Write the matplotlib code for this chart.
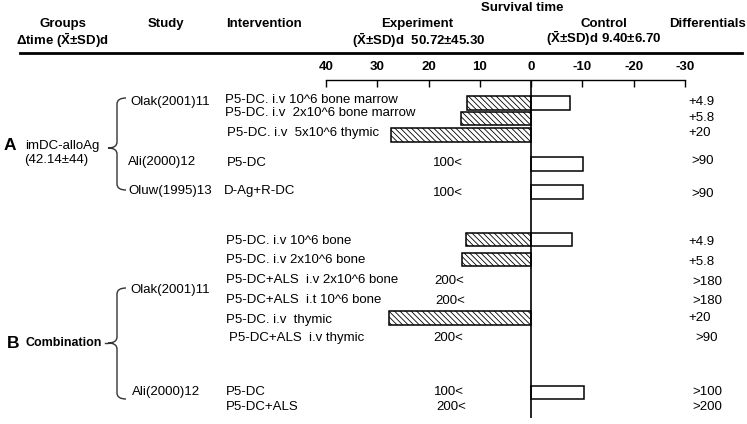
import matplotlib
matplotlib.use("Agg")
import matplotlib.pyplot as plt
from matplotlib.path import Path
from matplotlib.patches import PathPatch

plt.rcParams['font.family'] = ['Liberation Sans', 'DejaVu Sans']
plt.rcParams['mathtext.fontset'] = 'custom'
plt.rcParams['mathtext.rm'] = 'Liberation Sans:bold'
plt.rcParams['mathtext.bf'] = 'Liberation Sans:bold'
plt.rcParams['hatch.linewidth'] = 0.6

# experiment (left, hatched) and control (right, open) survival times, days
exp_days = [12.5, 13.6, 27.4, None, None,
            12.7, 13.4, None, None, 27.7, None, None, None]
ctrl_days = [7.6, None, None, 10.2, 10.2,
             8.0, None, None, None, None, None, 10.4, None]
interventions = ["P5-DC. i.v 10^6 bone marrow", "P5-DC. i.v  2x10^6 bone marrow",
                 "P5-DC. i.v  5x10^6 thymic", "P5-DC", "D-Ag+R-DC",
                 "P5-DC. i.v 10^6 bone", "P5-DC. i.v 2x10^6 bone",
                 "P5-DC+ALS  i.v 2x10^6 bone", "P5-DC+ALS  i.t 10^6 bone",
                 "P5-DC. i.v  thymic", "P5-DC+ALS  i.v thymic",
                 "P5-DC", "P5-DC+ALS"]
censored = ["", "", "", "100<", "100<", "", "", "200<", "200<", "", "200<", "100<", "200<"]
differentials = ["+4.9", "+5.8", "+20", ">90", ">90", "+4.9", "+5.8",
                 ">180", ">180", "+20", ">90", ">100", ">200"]
tick_vals = [40, 30, 20, 10, 0, -10, -20, -30]

# layout (pixel rows of the reference)
bar_y = [103, 118.5, 135, 164, 192, 239.5, 259.5, 281, 301, 318, 338, 392.5, 407]
text_y = [100, 113, 133, 163, 191, 241, 260, 280, 300, 320, 338, 392, 407]
text_x = [225, 225, 227, 227, 224, 226, 226, 226, 226, 226, 229, 226, 226]
cens_x = [0, 0, 0, 433, 433, 0, 0, 434, 435, 0, 433, 434, 436]
cens_y = [0, 0, 0, 163, 193, 0, 0, 281, 301, 0, 338, 392, 407]
diff_x = [688, 688, 688, 691, 691, 688, 688, 692, 692, 688, 695, 692, 692]
diff_y = [102, 118, 133, 161, 194, 242, 262, 282, 301, 318, 338, 392, 407]

W, H = 747, 424
fig = plt.figure(figsize=(W / 100, H / 100), dpi=100)

# overlay in pixel coordinates for the table text
ov = fig.add_axes([0, 0, 1, 1])
ov.set_xlim(0, W)
ov.set_ylim(H, 0)
ov.axis('off')

def t(x, y, s, size=9.5, weight='normal', ha='left', **kw):
    ov.text(x, y, s, fontsize=size, fontweight=weight, ha=ha, va='center', **kw)

xbar = r"$\bar{\mathrm{X}}$"
# header
t(63, 24, "Groups", 9.5, 'bold', ha='center')
t(62, 41, "\u0394time (" + xbar + "\u00b1SD)d", 9.5, 'bold', ha='center')
t(166, 24, "Study", 9.5, 'bold', ha='center')
t(264, 24, "Intervention", 9.5, 'bold', ha='center')
t(522, 8, "Survival time", 9.5, 'bold', ha='center')
t(417, 24, "Experiment", 9.5, 'bold', ha='center')
t(352, 41, "(" + xbar + "\u00b1SD)d  50.72\u00b145.30", 9.5, 'bold')
t(604, 24, "Control", 9.5, 'bold', ha='center')
t(546, 39, "(" + xbar + "\u00b1SD)d 9.40\u00b16.70", 9.5, 'bold')
t(707, 24, "Differentials", 9.5, 'bold', ha='center')
ov.plot([20, 742], [53, 53], color='black', lw=2)

# groups
t(4, 146, "A", 12.5, 'bold')
t(25, 146, "imDC-alloAg")
t(24, 160, "(42.14\u00b144)")
t(7, 343, "B", 12.5, 'bold')
t(25, 343, "Combination", 9, 'bold')

# studies
t(130, 102, "Olak(2001)11")
t(128, 162, "Ali(2000)12")
t(128, 191, "Oluw(1995)13")
t(130, 290, "Olak(2001)11")
t(132, 392, "Ali(2000)12")

def brace(x, top, tip, bot, w=9, r=6):
    verts = [(x + w, top), (x, top), (x, top + r),
             (x, tip - r), (x, tip), (x - w, tip),
             (x, tip), (x, tip + r),
             (x, bot - r), (x, bot), (x + w, bot)]
    codes = [Path.MOVETO, Path.CURVE3, Path.CURVE3,
             Path.LINETO, Path.CURVE3, Path.CURVE3,
             Path.CURVE3, Path.CURVE3,
             Path.LINETO, Path.CURVE3, Path.CURVE3]
    ov.add_patch(PathPatch(Path(verts, codes), fill=False, lw=1.0, color='#333333'))

brace(117, 98, 148, 190)
brace(117, 288, 343, 399)
ov.plot([105, 108], [343, 343], color='#333333', lw=1.0)

for i in range(len(interventions)):
    t(text_x[i], text_y[i], interventions[i])
    if censored[i]:
        t(cens_x[i], cens_y[i], censored[i])
    t(diff_x[i], diff_y[i], differentials[i])

# bar axes
ax = fig.add_axes([326 / W, (H - 418) / H, (685 - 326) / W, (418 - 80) / H])
ax.patch.set_alpha(0)
ax.set_xlim(40, -30)
ax.set_ylim(418, 80)
for y, e, c in zip(bar_y, exp_days, ctrl_days):
    if e is not None:
        ax.barh(y, e, height=13.5, left=0, color='white', edgecolor='black',
                hatch='\\\\\\\\\\\\', lw=1.1)
    if c is not None:
        ax.barh(y, -c, height=13.5, left=0, color='white', edgecolor='black', lw=1.1)
ax.axvline(0, color='black', lw=1.2)

for s in ['left', 'right', 'bottom']:
    ax.spines[s].set_visible(False)
ax.spines['top'].set_linewidth(1.0)
ax.xaxis.tick_top()
ax.set_xticks(tick_vals)
ax.set_xticklabels([str(v) for v in tick_vals], fontweight='bold', fontsize=9.5)
ax.tick_params(axis='x', direction='in', length=5, width=1, pad=5)
ax.set_yticks([])

plt.savefig("out.png", dpi=100)
plt.close(fig)
